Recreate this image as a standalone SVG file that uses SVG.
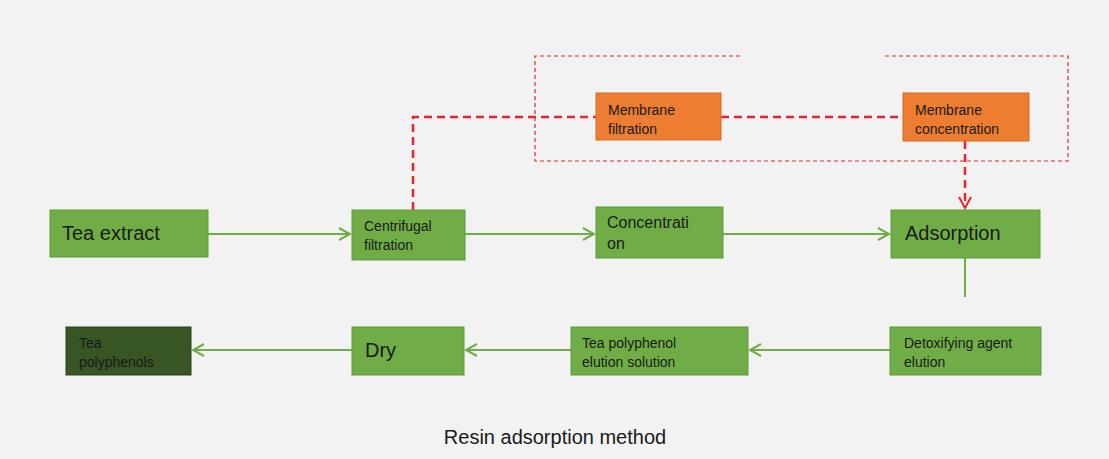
<svg xmlns="http://www.w3.org/2000/svg" width="1109" height="459" viewBox="0 0 1109 459">
<defs>
<marker id="ga" markerWidth="14" markerHeight="14" refX="12" refY="7" orient="auto" markerUnits="userSpaceOnUse"><path d="M1,1 L12,7 L1,13" fill="none" stroke="#70ad47" stroke-width="2"/></marker>
<marker id="ra" markerWidth="14" markerHeight="14" refX="12" refY="7" orient="auto" markerUnits="userSpaceOnUse"><path d="M1,1 L12,7 L1,13" fill="none" stroke="#e8262a" stroke-width="2"/></marker>
</defs>
<style>
.g{fill:#70ad47;stroke:#5f9a3b;stroke-width:1}
.o{fill:#ed7d31;stroke:#d86b22;stroke-width:1}
.d{fill:#375623;stroke:#2b4519;stroke-width:1}
text{font-family:"Liberation Sans",Arial,sans-serif;fill:#1a1a1a}
.l{font-size:20px}.s{font-size:14px}.m{font-size:16px}
.gl{stroke:#70ad47;stroke-width:2;fill:none}
.rl{stroke:#e8262a;stroke-width:2.5;fill:none;stroke-dasharray:8,5}
.rb{stroke:#e8262a;stroke-width:1.2;fill:none;stroke-dasharray:4,3}
</style>
<rect width="1109" height="459" fill="#f2f2f2"/>
<g id="connectors">
<line class="gl" x1="208" y1="234" x2="350" y2="234" marker-end="url(#ga)"/>
<line class="gl" x1="465" y1="234" x2="594" y2="234" marker-end="url(#ga)"/>
<line class="gl" x1="723" y1="234" x2="889" y2="234" marker-end="url(#ga)"/>
<line class="gl" x1="965" y1="258" x2="965" y2="297"/>
<line class="gl" x1="890" y1="350" x2="750" y2="350" marker-end="url(#ga)"/>
<line class="gl" x1="571" y1="350" x2="466" y2="350" marker-end="url(#ga)"/>
<line class="gl" x1="352" y1="350" x2="193" y2="350" marker-end="url(#ga)"/>
<path class="rl" d="M413,210 L413,117 L596,117"/>
<line class="rl" x1="721" y1="117" x2="903" y2="117"/>
<line class="rl" x1="965" y1="141" x2="965" y2="208" marker-end="url(#ra)"/>
<path class="rb" d="M740,56 L535,56 L535,161 L1068,161 L1068,56 L885,56"/>
</g>
<g id="tea-extract"><rect class="g" x="50" y="210" width="158" height="47"/><text class="l" x="62" y="240">Tea extract</text></g>
<g id="centrifugal"><rect class="g" x="352" y="210" width="113" height="50"/><text class="s" x="364" y="231">Centrifugal</text><text class="s" x="364" y="250">filtration</text></g>
<g id="concentration"><rect class="g" x="596" y="207" width="127" height="51"/><text class="m" x="607" y="228">Concentrati</text><text class="m" x="607" y="249">on</text></g>
<g id="adsorption"><rect class="g" x="891" y="210" width="149" height="48"/><text class="l" x="905" y="240">Adsorption</text></g>
<g id="detox"><rect class="g" x="890" y="327" width="151" height="48"/><text class="s" x="904" y="348">Detoxifying agent</text><text class="s" x="904" y="367">elution</text></g>
<g id="elution-solution"><rect class="g" x="571" y="327" width="177" height="48"/><text class="s" x="582" y="348">Tea polyphenol</text><text class="s" x="582" y="367">elution solution</text></g>
<g id="dry"><rect class="g" x="352" y="327" width="112" height="48"/><text class="l" x="365" y="357">Dry</text></g>
<g id="tea-polyphenols"><rect class="d" x="66" y="327" width="125" height="48"/><text class="s" x="79" y="348">Tea</text><text class="s" x="79" y="367">polyphenols</text></g>
<g id="membrane-filtration"><rect class="o" x="596" y="93" width="125" height="47"/><text class="s" x="608" y="115">Membrane</text><text class="s" x="608" y="134">filtration</text></g>
<g id="membrane-concentration"><rect class="o" x="903" y="93" width="126" height="48"/><text class="s" x="915" y="115">Membrane</text><text class="s" x="915" y="134">concentration</text></g>
<text x="555" y="444" text-anchor="middle" font-size="20">Resin adsorption method</text>
</svg>
